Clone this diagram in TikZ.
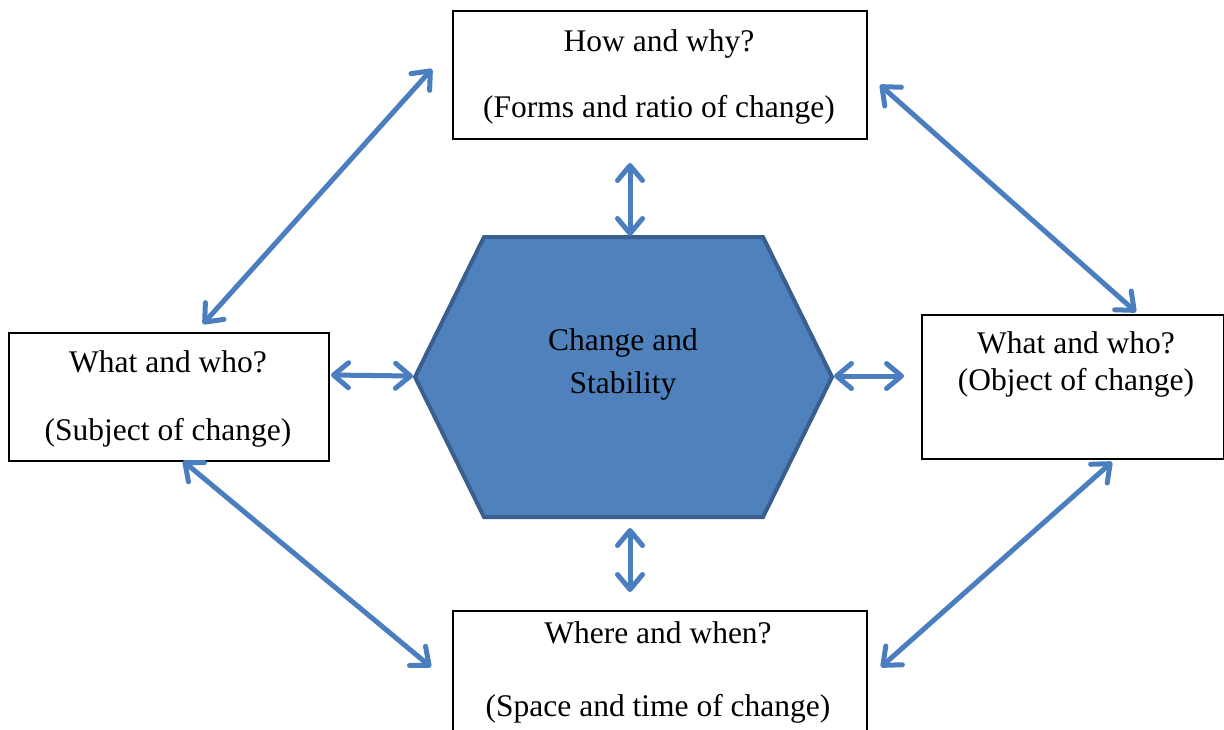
\documentclass[tikz,border=0pt]{standalone}
\usepackage{fontspec}
\setmainfont{Liberation Serif}
\usetikzlibrary{arrows.meta}
\definecolor{hexfill}{HTML}{4F81BD}
\definecolor{hexline}{HTML}{3A5F8E}
\definecolor{arrowblue}{HTML}{4A7EBE}
\tikzset{
  box/.style={draw=black, line width=0.75pt, fill=white, rectangle, inner sep=0pt, anchor=north west},
  label/.style={font=\fontsize{15.75}{18}\selectfont, inner sep=0pt, anchor=base},
  link/.style={arrowblue, line width=2.5pt, line cap=round,
    {Straight Barb[length=7.5pt, width=12.5pt, round]}-{Straight Barb[length=7.5pt, width=12.5pt, round]}},
}
\begin{document}
\begin{tikzpicture}[x=0.5pt, y=-0.5pt]
\useasboundingbox (0,0) rectangle (1224,729);
\clip (0,0) rectangle (1224,729);

% outer question boxes
\node[box, minimum width=207pt, minimum height=64pt] (how) at (452,10) {};
\node[box, minimum width=160pt, minimum height=64pt] (subj) at (8,332) {};
\node[box, minimum width=151pt, minimum height=72pt] (obj) at (921,314) {};
\node[box, minimum width=207pt, minimum height=70pt] (where) at (452,610) {};

\node[label] (how1) at (659,51) {How and why?};
\node[label] (how2) at (659,117) {(Forms and ratio of change)};
\node[label] (subj1) at (168,372) {What and who?};
\node[label] (subj2) at (168,440) {(Subject of change)};
\node[label] (obj1) at (1076,353) {What and who?};
\node[label] (obj2) at (1076,390) {(Object of change)};
\node[label] (where1) at (658,643) {Where and when?};
\node[label] (where2) at (658,716) {(Space and time of change)};

% central hexagon
\coordinate (h1) at (484,237);
\coordinate (h2) at (763,237);
\coordinate (h3) at (832,377);
\coordinate (h4) at (763,517);
\coordinate (h5) at (484,517);
\coordinate (h6) at (415,377);
\draw[fill=hexfill, draw=hexline, line width=2pt, line join=miter]
  (h1) -- (h2) -- (h3) -- (h4) -- (h5) -- (h6) -- cycle;
\node[label] (core1) at (623,350) {Change and};
\node[label] (core2) at (623,393) {Stability};

% arrow end points
\coordinate (tlA) at (432,69);   \coordinate (tlB) at (203,324);
\coordinate (trA) at (880,85);   \coordinate (trB) at (1136,312);
\coordinate (tvA) at (630,163);  \coordinate (tvB) at (630,236);
\coordinate (lhA) at (331,375);  \coordinate (lhB) at (413,376);
\coordinate (rhA) at (834,376);  \coordinate (rhB) at (904,376);
\coordinate (bvA) at (630,528);  \coordinate (bvB) at (630,592);
\coordinate (blA) at (183,461);  \coordinate (blB) at (431,667);
\coordinate (brA) at (1112,462); \coordinate (brB) at (881,667);

\draw[link] (tlA) -- (tlB);
\draw[link] (trA) -- (trB);
\draw[link] (tvA) -- (tvB);
\draw[link] (lhA) -- (lhB);
\draw[link] (rhA) -- (rhB);
\draw[link] (bvA) -- (bvB);
\draw[link] (blA) -- (blB);
\draw[link] (brA) -- (brB);
\end{tikzpicture}
\end{document}
